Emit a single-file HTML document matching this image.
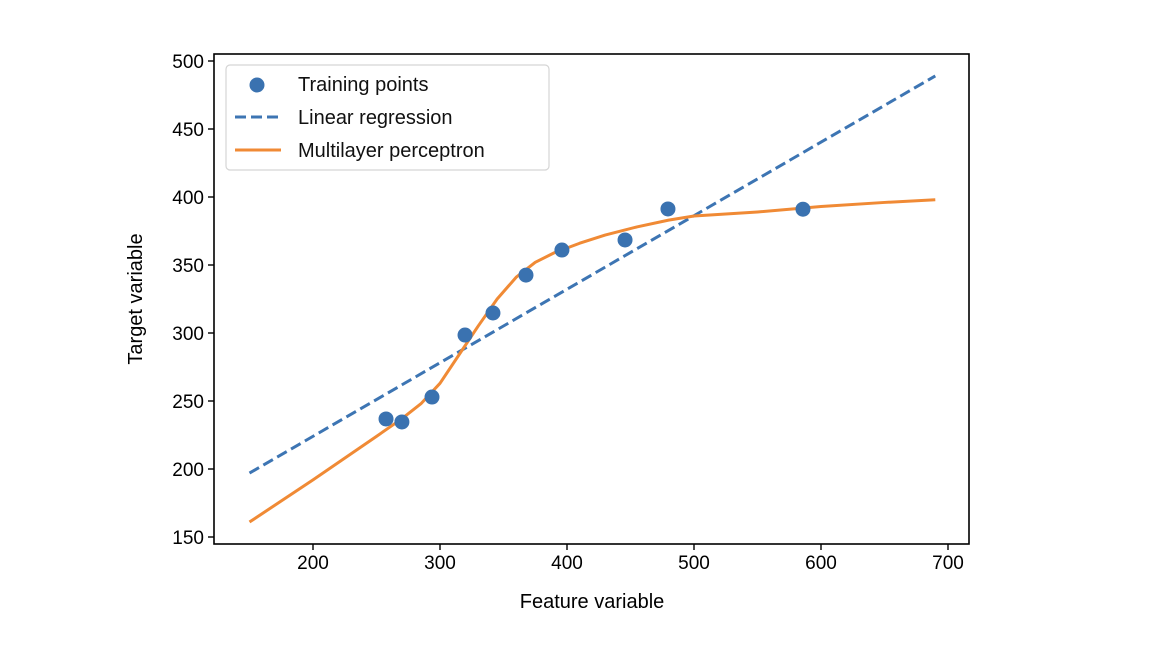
<!DOCTYPE html>
<html><head><meta charset="utf-8"><style>
html,body{margin:0;padding:0;background:#fff;}
svg{display:block;font-family:"Liberation Sans","DejaVu Sans",sans-serif;}
</style></head><body>
<svg id="c" width="1158" height="662" viewBox="0 0 1158 662"></svg>
<script>
const xTicks=[200,300,400,500,600,700];
const yTicks=[150,200,250,300,350,400,450,500];
const trainX=[257.5,270,293.7,319.7,341.7,367.7,396,445.7,479.5,585.8];
const trainY=[236.8,234.6,252.9,298.5,314.7,342.6,361,368.4,391.2,391];
const linX=[150,690];
const linY=[197,489];
const mlpX=[150,200,250,270,285,300,315,330,345,360,375,390,410,430,455,480,500,550,600,650,690];
const mlpY=[161,192,224,237,248,263,284,305,325,341,352,359,366,372,378,383,386,389,393,396,398];

const L=214,R=969,T=54,B=544;
const sx=v=>313+(v-200)*1.27;
const sy=v=>469-(v-200)*1.36;
const svg=document.getElementById('c');
const NS='http://www.w3.org/2000/svg';
function mk(tag,attrs,parent){const e=document.createElementNS(NS,tag);for(const k in attrs)e.setAttribute(k,attrs[k]);(parent||svg).appendChild(e);return e;}

const frame=mk('rect',{x:L,y:T,width:R-L,height:B-T,fill:'none',stroke:'#000','stroke-width':1.6});



xTicks.forEach(v=>{
  const g=mk('g',{});
  
  
  mk('line',{x1:sx(v),x2:sx(v),y1:B,y2:B+6,stroke:'#000','stroke-width':1.4},g);
  const t=mk('text',{x:sx(v),y:B+25,'text-anchor':'middle','font-size':19,fill:'#000'},g);t.textContent=v;
});
yTicks.forEach(v=>{
  const g=mk('g',{});
  
  
  mk('line',{x1:L-6,x2:L,y1:sy(v),y2:sy(v),stroke:'#000','stroke-width':1.4},g);
  const t=mk('text',{x:L-10,y:sy(v)+7,'text-anchor':'end','font-size':19,fill:'#000'},g);t.textContent=v;
});
const xl=mk('text',{x:592,y:608,'text-anchor':'middle','font-size':20,fill:'#000'});xl.textContent='Feature variable';


const yl=mk('text',{x:0,y:0,transform:'translate(142,299) rotate(-90)','text-anchor':'middle','font-size':20,fill:'#000'});yl.textContent='Target variable';



const lin=mk('polyline',{points:linX.map((x,i)=>sx(x)+','+sy(linY[i])).join(' '),fill:'none',stroke:'#3d75b3','stroke-width':3,'stroke-dasharray':'11,5'});


const mlp=mk('polyline',{points:mlpX.map((x,i)=>sx(x)+','+sy(mlpY[i])).join(' '),fill:'none',stroke:'#f08a35','stroke-width':3,'stroke-linejoin':'round'});


trainX.forEach((x,i)=>{
  const c=mk('circle',{cx:sx(x),cy:sy(trainY[i]),r:7.5,fill:'#3a72b0'});
  
  
});

const lg=mk('g',{});


mk('rect',{x:226,y:65,width:323,height:105,rx:4,fill:'#fff','fill-opacity':0.8,stroke:'#d5d5d5','stroke-width':1.2},lg);
mk('circle',{cx:257,cy:85,r:7.5,fill:'#3a72b0'},lg);
mk('line',{x1:235,x2:281,y1:117,y2:117,stroke:'#3d75b3','stroke-width':3,'stroke-dasharray':'11,5'},lg);
mk('line',{x1:235,x2:281,y1:150,y2:150,stroke:'#f08a35','stroke-width':3},lg);
[['Training points',91,'legend-entry-training'],['Linear regression',124,'legend-entry-linear'],['Multilayer perceptron',157,'legend-entry-mlp']].forEach(([s,y,n])=>{
  const t=mk('text',{x:298,y:y,'font-size':20,fill:'#111'},lg);t.textContent=s;
  
  
});
</script>
</body></html>
